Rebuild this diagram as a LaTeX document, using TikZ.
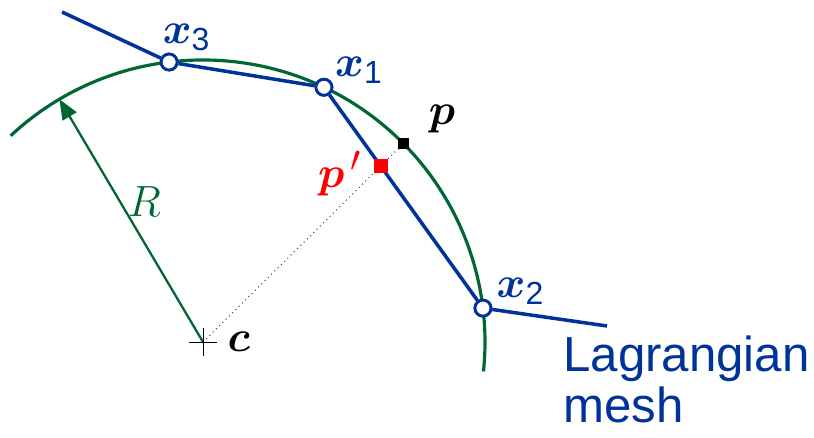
\documentclass[tikz,border=0pt]{standalone}
\usepackage{amsmath,amssymb,bm}
\usepackage{fontspec}
\usepackage{xcolor}
\usepackage{tikz}
\usetikzlibrary{arrows.meta,positioning,calc}
\newfontfamily\labelsans{Liberation Sans}
\definecolor{meshblue}{HTML}{003399}
\definecolor{sphgreen}{HTML}{006633}
\definecolor{dotgray}{HTML}{2F5555}
\newcommand{\vlabel}[2]{$\bm{#1}_{\text{\labelsans #2}}$}

\begin{document}
\begin{tikzpicture}[
    vertex/.style={circle, draw=meshblue, fill=white, line width=1.6pt, minimum size=0.32cm, inner sep=0pt},
    mesh/.style={meshblue, line width=2pt},
    sphere/.style={sphgreen, line width=1.8pt},
    radarrow/.style={-{Triangle[length=4mm,width=3.2mm]}, sphgreen, line width=1.3pt},
    ptmark/.style={rectangle, inner sep=0pt},
    lbl/.style={font=\fontsize{26}{30}\selectfont, inner sep=1pt}
]
    \useasboundingbox (-4.06,-1.92) rectangle (12.22,6.84);
    \def\rad{5.64}

    % Nodes
    \coordinate (c) at (0,0);
    \coordinate (tip) at (120.6:\rad);
    \coordinate (start) at (-2.82,6.6);
    \coordinate (finish) at (8.08,0.32);
    \node[vertex] (x3) at (96.9:\rad) {};
    \node[vertex] (x1) at (64.6:\rad) {};
    \node[vertex] (x2) at (6.9:\rad) {};
    \coordinate (p) at (44.7:\rad);
    \coordinate (pp) at (intersection of c--p and x1--x2);

    % Sphere and radius
    \draw[sphere] (133:\rad) arc[start angle=133, end angle=-6, radius=\rad];
    \draw[radarrow] (c) -- node[lbl, sphgreen, right=3pt, pos=0.58] {$R$} (tip);
    \draw[dotgray, dotted, line width=0.6pt] (c) -- (p);
    \draw[line width=0.5pt] ($(c)+(-0.28,0)$) -- ($(c)+(0.28,0)$) ($(c)+(0,-0.28)$) -- ($(c)+(0,0.28)$);
    \node[lbl, right=0.45cm of c] (clabel) {$\bm{c}$};

    % Mesh
    \draw[mesh] (start) -- (x3) -- (x1) -- (x2) -- (finish);
    \node[vertex] at (x3) {};
    \node[vertex] at (x1) {};
    \node[vertex] at (x2) {};
    \node[ptmark, fill=black, minimum size=0.22cm] (pmark) at (p) {};
    \node[ptmark, fill=red, minimum size=0.28cm] (ppmark) at (pp) {};

    % Labels
    \node[lbl, meshblue, above right=0.05cm and -0.3cm of x3] {\vlabel{x}{3}};
    \node[lbl, meshblue, above right=-0.1cm and 0.05cm of x1] {\vlabel{x}{1}};
    \node[lbl, meshblue, above right=-0.1cm and 0.1cm of x2] {\vlabel{x}{2}};
    \node[lbl, above right=0.05cm and 0.35cm of pmark] {$\bm{p}$};
    \node[lbl, red, font=\fontsize{30}{34}\selectfont, left=0.2cm of ppmark, yshift=-0.15cm] {$\bm{p}^{\,\prime}$};
    \node[meshblue, font=\labelsans\fontsize{28}{29}\selectfont, align=left, anchor=north west, inner sep=0pt] (meshlabel) at (7.2,0.12) {Lagrangian\\mesh};
\end{tikzpicture}
\end{document}
